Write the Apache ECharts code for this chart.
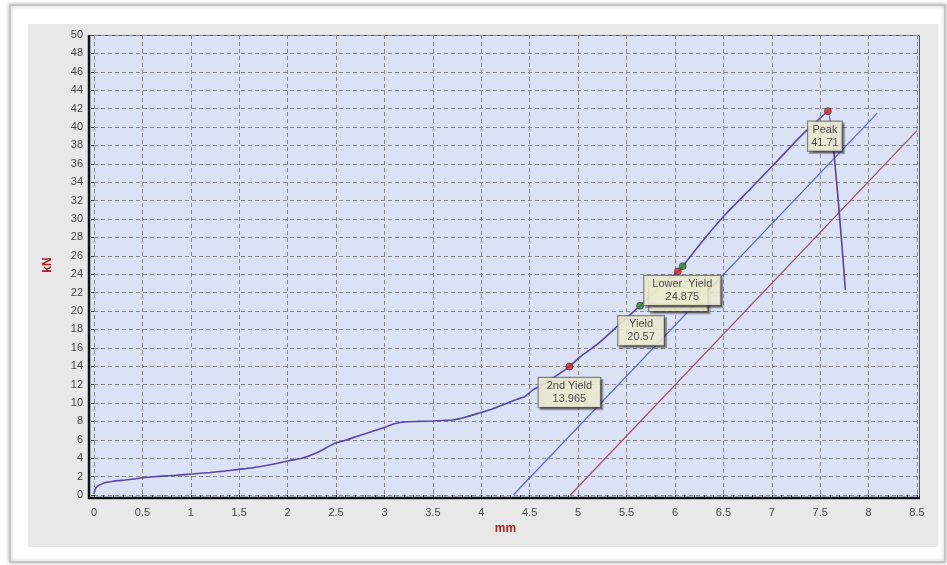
<!DOCTYPE html>
<html>
<head>
<meta charset="utf-8">
<script src="https://cdn.jsdelivr.net/npm/echarts@6/dist/echarts.min.js"></script>
<style>
  html, body { margin: 0; padding: 0; background: #ffffff; }
  #chart { width: 947px; height: 565px; }
</style>
</head>
<body>
<div id="chart"></div>
<script>
// ---- data ----
const curveX = [0, 0.01, 0.03, 0.06, 0.11, 0.2, 0.32, 0.42, 0.53, 0.7, 0.85, 1.01, 1.2, 1.35, 1.49, 1.6, 1.75, 1.9, 2.01, 2.15, 2.3, 2.49, 2.6, 2.75, 2.9, 3.02, 3.1, 3.23, 3.35, 3.5, 3.6, 3.71, 3.85, 3.99, 4.1, 4.2, 4.33, 4.45, 4.53, 4.65, 4.78, 4.91, 5.02, 5.2, 5.4, 5.64, 5.8, 6.03, 6.08, 6.3, 6.53, 6.8, 7.02, 7.29, 7.45, 7.58, 7.76];
const curveY = [0.1, 0.6, 0.9, 1.1, 1.34, 1.5, 1.63, 1.75, 1.9, 2.05, 2.15, 2.28, 2.45, 2.6, 2.79, 2.9, 3.15, 3.45, 3.73, 4.0, 4.6, 5.62, 5.95, 6.5, 7.0, 7.43, 7.75, 7.97, 8.0, 8.04, 8.1, 8.15, 8.5, 8.95, 9.3, 9.7, 10.25, 10.7, 11.4, 12.1, 13.0, 13.965, 15.0, 16.4, 18.3, 20.57, 22.2, 24.3, 24.875, 27.8, 30.6, 33.5, 35.9, 38.9, 40.5, 41.71, 22.3];

const blueLineX = [4.33, 8.09];
const blueLineY = [0, 41.5];
const redLineX = [4.92, 8.5];
const redLineY = [0, 39.6];

const markerX = [4.91, 5.64, 6.03, 6.08, 7.58];
const markerY = [13.965, 20.57, 24.3, 24.875, 41.71];
const markerColors = ['#e02020', '#2a8a2a', '#e02020', '#2a8a2a', '#e02020'];

const annNames = ['2nd Yield', 'Yield', 'Lower  Yield', 'Peak'];
const annValues = ['13.965', '20.57', '24.875', '41.71'];
const annX = [4.91, 5.64, 6.03, 7.58];
const annY = [13.965, 20.57, 24.3, 41.71];

const xTickLabels = ['0', '0.5', '1', '1.5', '2', '2.5', '3', '3.5', '4', '4.5', '5', '5.5', '6', '6.5', '7', '7.5', '8', '8.5'];
const xAxisName = 'mm';
const yAxisName = 'kN';

// ---- build ----
const zip = (xs, ys) => xs.map((x, i) => [x, ys[i]]);

const boxStyle = {
  backgroundColor: '#fdfddf',
  borderColor: '#6a6a6a',
  borderWidth: 1.2,
  shadowColor: 'rgba(0,0,0,0.4)',
  shadowOffsetX: 2,
  shadowOffsetY: 2,
  shadowBlur: 1,
  color: '#262626',
  fontFamily: 'Liberation Sans, Arial, sans-serif',
  fontSize: 11,
  lineHeight: 13,
  align: 'center'
};
const annLayout = [
  { offset: [0, 26], padding: [2, 8, 1, 8] },
  { offset: [1, 25], padding: [2, 9, 1, 9] },
  { offset: [4.5, 19], padding: [2, 8, 1, 8] },
  { offset: [-3, 25], padding: [2, 3, 1, 3] }
];

const annData = [];
// hidden second box behind "Lower Yield"
annData.push({
  value: [annX[2], annY[2]],
  label: Object.assign({}, boxStyle, { formatter: ' \n ', offset: [0.5, 25], width: 58, padding: [2, 0, 1, 0] })
});
annNames.forEach((n, i) => {
  annData.push({
    value: [annX[i], annY[i]],
    label: Object.assign({}, boxStyle, {
      formatter: n + '\n' + annValues[i],
      offset: annLayout[i].offset,
      padding: annLayout[i].padding
    })
  });
});

const chart = echarts.init(document.getElementById('chart'), null, { renderer: 'canvas' });

const option = {
  animation: false,
  backgroundColor: '#ffffff',
  textStyle: { fontFamily: 'Liberation Sans, Arial, sans-serif' },
  graphic: [
    { type: 'rect', z: -10, shape: { x: 10, y: 5, width: 935, height: 557 },
      style: { fill: '#ffffff', stroke: '#c4c4c4', lineWidth: 2, shadowColor: 'rgba(0,0,0,0.25)', shadowBlur: 4 } },
    { type: 'rect', z: -9, shape: { x: 28, y: 24, width: 910, height: 523 },
      style: { fill: '#e8e8e8' } },
    { type: 'rect', z: -8, shape: { x: 89.5, y: 35.5, width: 830, height: 462 },
      style: { fill: '#dbe2f6', stroke: '#555', lineWidth: 1 } },
    { type: 'line', z: 50, shape: { x1: 89, y1: 35, x2: 89, y2: 499 },
      style: { stroke: '#111', lineWidth: 2.5 } },
    { type: 'line', z: 50, shape: { x1: 88, y1: 498, x2: 920, y2: 498 },
      style: { stroke: '#111', lineWidth: 2.5 } }
  ],
  grid: { left: 94, right: 30, top: 35, bottom: 70, containLabel: false },
  xAxis: {
    type: 'value', min: 0, max: 8.5, interval: 0.5, offset: 3,
    name: xAxisName, nameLocation: 'middle', nameGap: 23,
    nameTextStyle: { color: '#b01e24', fontWeight: 'bold', fontSize: 12 },
    axisLine: { show: false },
    axisTick: { show: true, length: 4, lineStyle: { color: '#222' } },
    minorTick: { show: true, splitNumber: 5, length: 3, lineStyle: { color: '#444' } },
    axisLabel: { color: '#474747', fontSize: 11, margin: 9,
      formatter: (v) => { const i = Math.round(v / 0.5); return xTickLabels[i] !== undefined ? xTickLabels[i] : ''; } },
    splitLine: { show: true, lineStyle: { color: '#888', type: [4, 3], width: 1 } }
  },
  yAxis: {
    type: 'value', min: 0, max: 50, interval: 2, offset: 5,
    name: yAxisName, nameLocation: 'middle', nameGap: 35,
    nameTextStyle: { color: '#b01e24', fontWeight: 'bold', fontSize: 12 },
    axisLine: { show: false },
    axisTick: { show: true, length: 3, lineStyle: { color: '#444' } },
    axisLabel: { color: '#474747', fontSize: 11, margin: 6 },
    splitLine: { show: true, lineStyle: { color: '#888', type: [4, 3], width: 1 } }
  },
  series: [
    { type: 'line', name: 'blue', data: zip(blueLineX, blueLineY), symbol: 'none',
      lineStyle: { color: '#5566ee', width: 1.2 }, z: 3 },
    { type: 'line', name: 'red', data: zip(redLineX, redLineY), symbol: 'none',
      lineStyle: { color: '#a0506a', width: 1.2 }, z: 3 },
    { type: 'line', name: 'curve', data: zip(curveX, curveY), symbol: 'none', smooth: 0.15,
      lineStyle: { color: '#5a45aa', width: 1.6 }, z: 4 },
    { type: 'scatter', name: 'markers', z: 5, symbolSize: 7,
      data: markerX.map((x, i) => ({ value: [x, markerY[i]],
        itemStyle: { color: markerColors[i], borderColor: '#333', borderWidth: 0.8 } })) },
    { type: 'scatter', name: 'labels', z: 10, symbolSize: 0, silent: true,
      label: { show: true, position: 'inside' },
      data: annData }
  ]
};
chart.setOption(option);
</script>
</body>
</html>
